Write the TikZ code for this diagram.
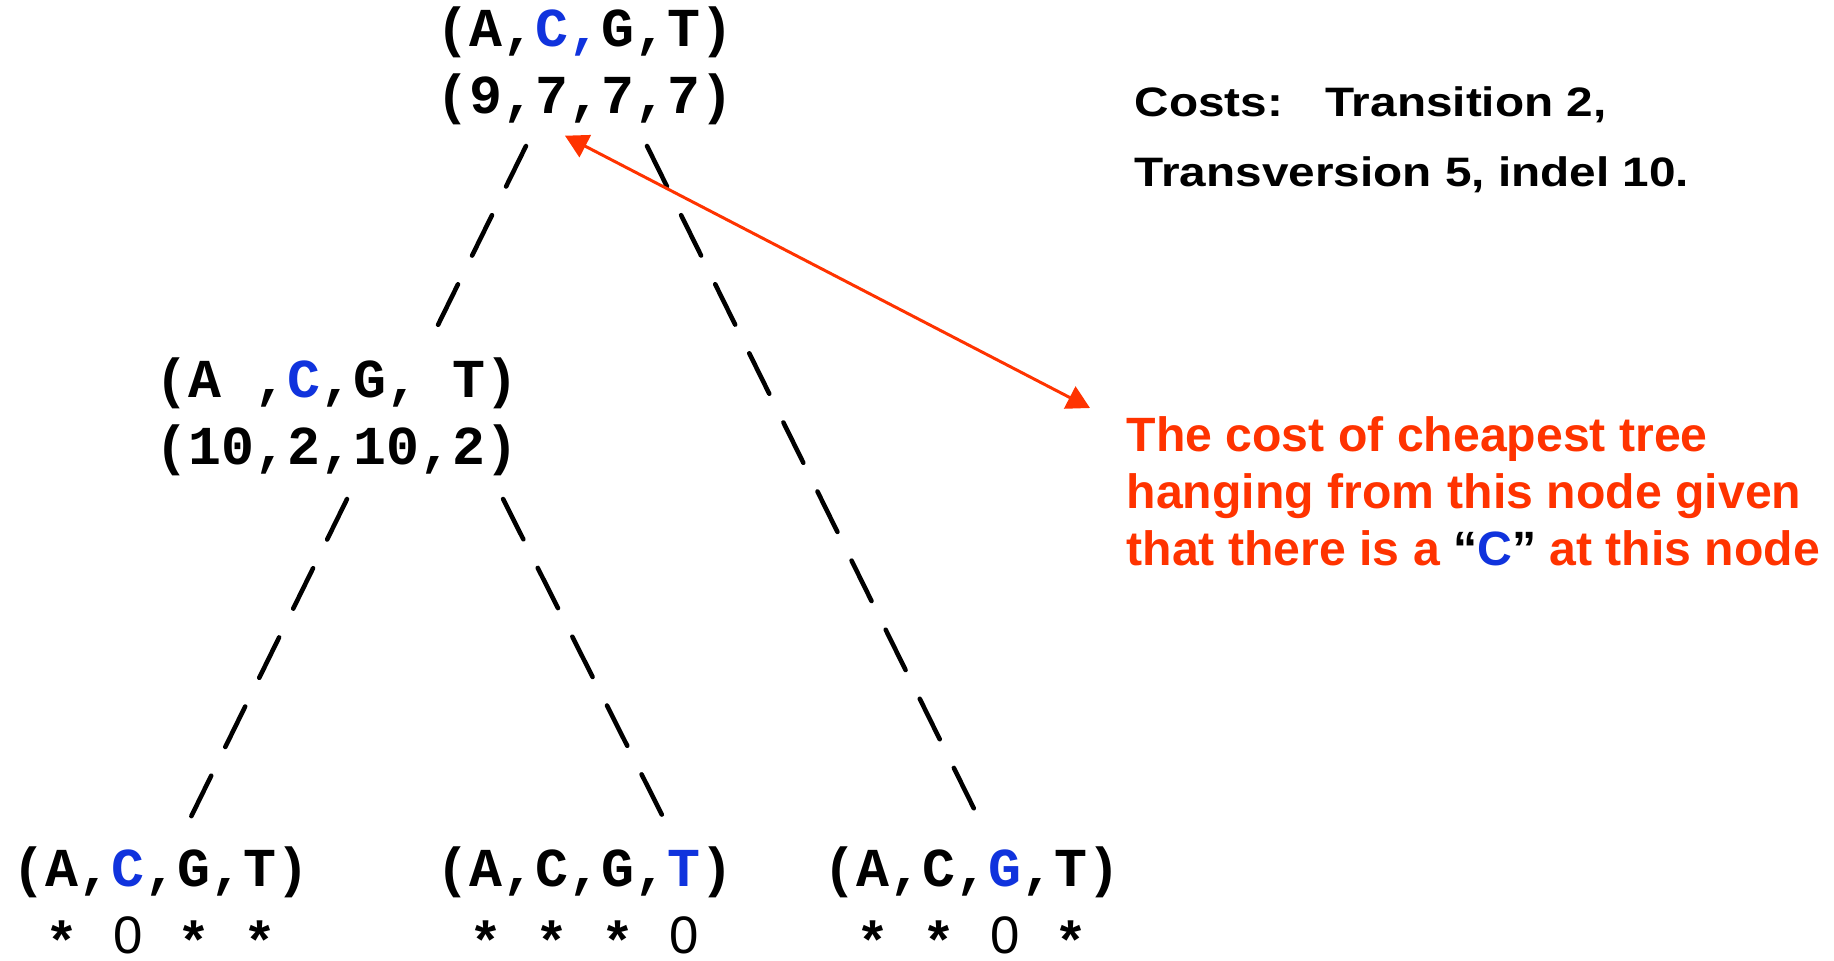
\documentclass[tikz,border=0pt]{standalone}
\usepackage{fontspec}
\setmainfont{Liberation Sans}
\newfontfamily\seqfont{Liberation Mono}
\newfontfamily\costfont[FakeStretch=1.16]{Liberation Sans}
\usetikzlibrary{arrows.meta}
\definecolor{seqblue}{RGB}{16,51,221}
\definecolor{notered}{RGB}{255,51,0}
\newcommand{\bl}[1]{\textcolor{seqblue}{#1}}
\newcommand{\zr}{\makebox[0.6em]{\rmfamily\mdseries\fontsize{15}{15}\selectfont 0}}
\newcommand{\st}{\raisebox{-2pt}{*}}

\begin{document}
\begin{tikzpicture}[x=0.01cm,y=-0.01cm,
    tup/.style={font=\seqfont\bfseries\fontsize{15.6}{19}\selectfont,align=center,inner sep=0pt},
    edge/.style={line width=1.3pt,line cap=round,dash pattern=on 0.45cm off 0.32cm},
    notearrow/.style={draw=notered,line width=0.85pt,
      {Triangle[length=6.5pt,width=7pt]}-{Triangle[length=6.5pt,width=7pt]}}]
  \useasboundingbox (0,0) rectangle (1834,960);
  \node[tup] (root) at (585,66) {(A,\bl{C,}G,T)\\(9,7,7,7)};
  \node[tup] (mid) at (337,417) {(A ,\bl{C},G, T)\\(10,2,10,2)};
  \node[tup] (ll) at (161,906) {(A,\bl{C},G,T)\\\phantom{(}\st{} \zr{} \st{} \st\phantom{)}};
  \node[tup] (lm) at (585,906) {(A,C,G,\bl{T})\\\phantom{(}\st{} \st{} \st{} \zr\phantom{)}};
  \node[tup] (lr) at (972,906) {(A,C,\bl{G},T)\\\phantom{(}\st{} \st{} \zr{} \st\phantom{)}};
  \node[anchor=north west,inner sep=0pt,align=left,
    font=\costfont\bfseries\fontsize{11.7}{20}\selectfont] (costs) at (1134,86)
    {Costs:\hspace{12pt}Transition 2,\\Transversion 5, indel 10.};
  \node[anchor=north west,inner sep=0pt,align=left,text=notered,
    font=\bfseries\fontsize{13.7}{16.2}\selectfont] (note) at (1126,416)
    {The cost of cheapest tree\\hanging from this node given\\that there is a
     \textcolor{black}{“}\bl{C}\textcolor{black}{”} at this node};
  \draw[edge] ([xshift=-0.59cm,yshift=-0.80cm]root.center) -- ([xshift=0.96cm,yshift=0.82cm]mid.center);
  \draw[edge] ([xshift=0.62cm,yshift=-0.80cm]root.center) -- ([xshift=0.10cm,yshift=0.81cm]lr.center);
  \draw[edge] ([xshift=0.10cm,yshift=-0.82cm]mid.center) -- ([xshift=0.26cm,yshift=0.81cm]ll.center);
  \draw[edge] ([xshift=1.66cm,yshift=-0.82cm]mid.center) -- ([xshift=0.82cm,yshift=0.81cm]lm.center);
  \draw[notearrow] ([xshift=-0.2cm,yshift=-0.10cm]root.south)
    -- ([xshift=-0.36cm,yshift=0.08cm]note.north west);
\end{tikzpicture}
\end{document}
